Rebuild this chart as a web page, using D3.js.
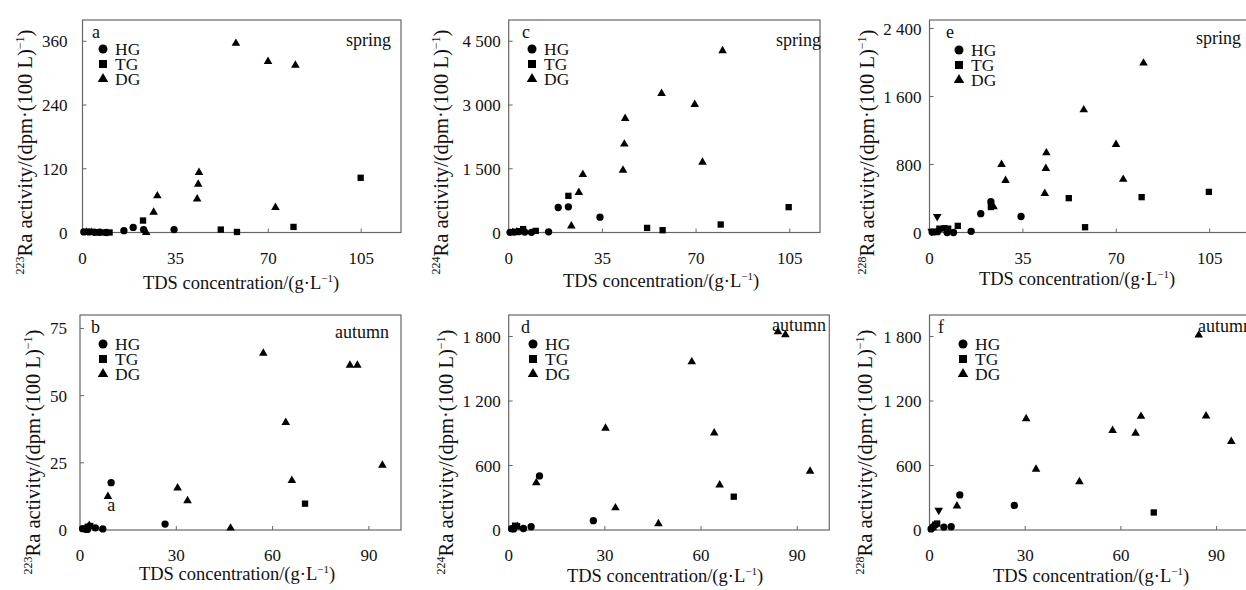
<!DOCTYPE html>
<html>
<head>
<meta charset="utf-8">
<script src="https://cdn.jsdelivr.net/npm/d3@7"></script>
<style>
  body { margin: 0; background: #fff; }
  text { font-family: "Liberation Serif", "Times New Roman", serif; fill: #111; }
</style>
</head>
<body>
<div id="chart"></div>
<script>
// values: [TDS g/L, activity dpm/100L]
const aHG = [[0.5,1],[2.5,1],[4.5,0.5],[6.5,0.5],[9,0],[15.6,3.5],[19.1,9.5],[23,5.5],[34.5,5.5]];
const aTG = [[5.5,0],[8.5,0],[10.2,0],[22.8,22.5],[52.1,5.5],[58.2,1],[79.5,10.5],[104.8,103]];
const aDG = [[1.5,0.5],[3.5,0],[24,0],[26.8,38],[28.2,69],[43.2,63],[43.6,91],[43.9,113],[57.8,356],[69.9,322],[72.7,47],[80.2,315]];

const cHG = [[0.5,5],[2,10],[3.5,20],[6,10],[8.5,5],[14.9,15],[18.5,588],[22.3,603],[34.1,360]];
const cTG = [[4,30],[5.4,80],[10.1,38],[22.3,862],[51.7,108],[57.5,54],[79.2,188],[104.6,596]];
const cDG = [[1.5,0],[3,10],[23.4,155],[26.2,942],[27.7,1365],[42.7,1467],[43.2,2079],[43.5,2684],[57.1,3273],[69.5,3014],[72.4,1655],[79.9,4276]];

const eHG = [[1,5],[3,10],[6.6,0],[9,0],[15.6,14],[19.2,222],[23,362],[34.3,188]];
const eTG = [[3.7,45],[5.6,50],[7,45],[10.6,78],[23,300],[52.2,404],[58.3,62],[79.5,416],[104.7,478]];
const eDG = [[24,302],[27,799],[28.5,611],[43.2,460],[43.6,752],[43.8,937],[57.8,1443],[69.9,1036],[72.6,625],[80.2,1993]];
const eOT = [[0.8,15],[2,15],[2.9,188]];

const bHG = [[0.8,0.5],[1.8,0.3],[2.3,0.2],[4.8,0.8],[7.1,0.4],[9.7,17.6],[26.5,2.2]];
const bTG = [[2.4,1.2],[3.2,1.5],[70.1,9.8]];
const bDG = [[2.9,1.7],[8.7,12.5],[30.4,15.6],[33.5,10.9],[46.9,0.7],[57.1,65.8],[64.1,40],[66,18.4],[84.1,61.3],[86.4,61.3],[94.2,24.1]];

const dHG = [[0.9,12],[1.5,10],[4.6,14],[7,30],[9.6,503],[26.4,87]];
const dTG = [[2,40],[2.6,35],[70.2,310]];
const dDG = [[1.2,15],[2.8,30],[8.6,440],[30.2,947],[33.3,206],[46.7,59],[57.1,1564],[64.1,903],[65.8,418],[84,1845],[86.3,1817],[94,547]];

const fHG = [[0.5,10],[1.2,30],[4.5,27],[6.8,30],[9.5,326],[26.6,229]];
const fTG = [[1.8,50],[2.4,60],[70.3,163]];
const fDG = [[1,20],[8.6,224],[30.3,1035],[33.4,565],[47,449],[57.4,925],[64.6,900],[66.3,1057],[84.4,1813],[86.7,1060],[94.6,824]];
const fOT = [[2.9,184]];

const springX = [0, 35, 70, 105];
const autumnX = [0, 30, 60, 90];
const groupNames = ["HG", "TG", "DG"];

const W = 1246, H = 590;
const svg = d3.select("#chart").append("svg")
  .attr("width", W).attr("height", H);

const fmt = d3.formatLocale({decimal: ".", thousands: " ", grouping: [3], currency: ["", ""]}).format(",");

const shapes = {HG: d3.symbolCircle, TG: d3.symbolSquare, DG: d3.symbolTriangle, OT: d3.symbolTriangle};
const sizes = {HG: 42, TG: 40, DG: 32, OT: 32};

function panel(p) {
  const x = d3.scaleLinear().domain(p.xDom).range([p.left, p.right]);
  const y = d3.scaleLinear().domain(p.yDom).range([p.bottom, p.top]);
  const g = svg.append("g");

  // frame
  g.append("rect")
    .attr("x", p.left).attr("y", p.top)
    .attr("width", p.right - p.left).attr("height", p.bottom - p.top)
    .attr("fill", "none").attr("stroke", "#666").attr("stroke-width", 1.2);

  // inward ticks
  g.selectAll(".xt").data(p.xTicks.slice(1)).join("line")
    .attr("x1", d => x(d)).attr("x2", d => x(d))
    .attr("y1", p.bottom).attr("y2", p.bottom - 4)
    .attr("stroke", "#666");
  g.selectAll(".yt").data(p.yTicks.slice(1)).join("line")
    .attr("x1", p.left).attr("x2", p.left + 4)
    .attr("y1", d => y(d)).attr("y2", d => y(d))
    .attr("stroke", "#666");

  g.selectAll(".xl").data(p.xTicks).join("text")
    .attr("x", d => x(d)).attr("y", p.bottom + 31)
    .attr("text-anchor", "middle").style("font-size", "17px")
    .text(d => d);
  g.selectAll(".yl").data(p.yTicks).join("text")
    .attr("x", p.left - p.ytGap).attr("y", d => y(d) + 6)
    .attr("text-anchor", "end").style("font-size", "17px")
    .text(d => fmt(d));

  // points
  p.groups.forEach(([key, data]) => {
    g.selectAll(null).data(data).join("path")
      .attr("transform", d => `translate(${x(d[0])},${y(d[1])})` + (key === "OT" ? " rotate(180)" : ""))
      .attr("d", d3.symbol(shapes[key], sizes[key]))
      .attr("fill", "#000");
  });

  // legend
  groupNames.forEach((k, i) => {
    const ly = p.top + p.legTop + i * 15;
    g.append("path")
      .attr("transform", `translate(${p.legX},${ly})`)
      .attr("d", d3.symbol(shapes[k], k === "DG" ? 48 : 64))
      .attr("fill", "#000");
    g.append("text")
      .attr("x", p.legX + 12).attr("y", ly + 6)
      .style("font-size", "17.5px").text(k);
  });

  g.append("text").attr("x", p.letterX).attr("y", p.top + 18)
    .style("font-size", "18px").text(p.letter);
  g.append("text").attr("x", p.seasonX).attr("y", p.top + p.seasonY)
    .attr("text-anchor", "end").style("font-size", "18px").text(p.season);

  // axis titles
  const xt = g.append("text").attr("x", p.xlX).attr("y", p.xlY)
    .attr("text-anchor", "middle").style("font-size", "18.5px");
  xt.append("tspan").text("TDS concentration/(g·L");
  xt.append("tspan").attr("dy", -7).style("font-size", "11px").text("−1");
  xt.append("tspan").attr("dy", 7).text(")");

  const yt = g.append("text")
    .attr("transform", `translate(${p.ylX},${p.ylY}) rotate(-90)`)
    .attr("text-anchor", "middle").style("font-size", "20.5px");
  yt.append("tspan").attr("dy", -8).style("font-size", "12px").text(p.iso);
  yt.append("tspan").attr("dy", 8).text("Ra activity/(dpm·(100 L)");
  yt.append("tspan").attr("dy", -8).style("font-size", "12px").text("−1");
  yt.append("tspan").attr("dy", 8).text(")");

  if (p.note) {
    g.append("text").attr("x", x(p.note[0])).attr("y", y(p.note[1]))
      .attr("text-anchor", "middle").style("font-size", "18px").text(p.note[2]);
  }
}

const top1 = 20, bot1 = 232.5, top2 = 315, bot2 = 530;

panel({left: 82.5, right: 401, top: top1, bottom: bot1, xDom: [0, 120], yDom: [0, 400],
  xTicks: springX, yTicks: [0, 120, 240, 360], ytGap: 15,
  groups: [["HG", aHG], ["TG", aTG], ["DG", aDG]],
  letter: "a", letterX: 92, season: "spring", seasonX: 391, seasonY: 26,
  legX: 103, legTop: 29, xlX: 241, xlY: 289, ylX: 32, ylY: 152, iso: "223"});

panel({left: 508.7, right: 820, top: top1, bottom: bot1, xDom: [0, 116.3], yDom: [0, 5000],
  xTicks: springX, yTicks: [0, 1500, 3000, 4500], ytGap: 8,
  groups: [["HG", cHG], ["TG", cTG], ["DG", cDG]],
  letter: "c", letterX: 522, season: "spring", seasonX: 821, seasonY: 26,
  legX: 532, legTop: 29, xlX: 661, xlY: 287, ylX: 448, ylY: 152, iso: "224"});

panel({left: 929.5, right: 1249.7, top: top1, bottom: bot1, xDom: [0, 120], yDom: [0, 2500],
  xTicks: springX, yTicks: [0, 800, 1600, 2400], ytGap: 8,
  groups: [["HG", eHG], ["TG", eTG], ["DG", eDG], ["OT", eOT]],
  letter: "e", letterX: 946, season: "spring", seasonX: 1241, seasonY: 24,
  legX: 959, legTop: 30, xlX: 1077, xlY: 285, ylX: 874, ylY: 152, iso: "228"});

panel({left: 80, right: 401, top: top2, bottom: bot2, xDom: [0, 100], yDom: [0, 80],
  xTicks: autumnX, yTicks: [0, 25, 50, 75], ytGap: 13,
  groups: [["HG", bHG], ["TG", bTG], ["DG", bDG]],
  letter: "b", letterX: 91, season: "autumn", seasonX: 389, seasonY: 23,
  legX: 103, legTop: 29, xlX: 237, xlY: 580, ylX: 40, ylY: 452, iso: "223",
  note: [9.7, 6.9, "a"]});

panel({left: 508.7, right: 829.3, top: top2, bottom: bot2, xDom: [0, 100], yDom: [0, 2000],
  xTicks: autumnX, yTicks: [0, 600, 1200, 1800], ytGap: 8,
  groups: [["HG", dHG], ["TG", dTG], ["DG", dDG]],
  letter: "d", letterX: 521, season: "autumn", seasonX: 826, seasonY: 16,
  legX: 533, legTop: 29, xlX: 665, xlY: 582, ylX: 453, ylY: 452, iso: "224"});

panel({left: 929.5, right: 1248.5, top: top2, bottom: bot2, xDom: [0, 100], yDom: [0, 2000],
  xTicks: autumnX, yTicks: [0, 600, 1200, 1800], ytGap: 8,
  groups: [["HG", fHG], ["TG", fTG], ["DG", fDG], ["OT", fOT]],
  letter: "f", letterX: 938, season: "autumn", seasonX: 1252, seasonY: 17,
  legX: 963, legTop: 29, xlX: 1091, xlY: 582, ylX: 872, ylY: 452, iso: "228"});
</script>
</body>
</html>
